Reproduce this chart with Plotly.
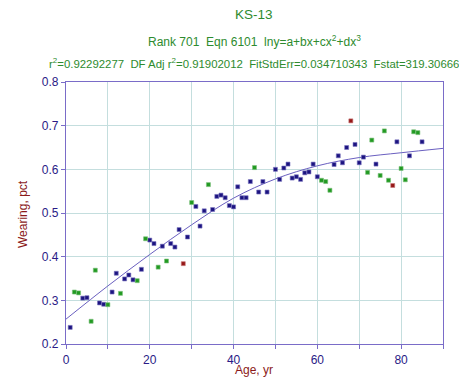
import plotly.graph_objects as go

# Data: age (yr) and wearing (pct), grouped by marker colour
blue_x = [1, 4, 5, 8, 9, 11, 12, 14, 15, 16, 18, 20, 21, 23, 25, 26, 27, 29, 31, 32, 33, 35, 36, 37, 38, 39, 40,
          41, 42, 43, 44, 46, 47, 48, 50, 51, 52, 53, 54, 55, 56, 57, 58, 59, 60, 64, 65, 66, 67, 69, 70, 71, 74,
          79, 82, 85]
blue_y = [0.238, 0.305, 0.306, 0.294, 0.291, 0.319, 0.362, 0.349, 0.358, 0.347, 0.371, 0.438, 0.430, 0.424, 0.430,
          0.422, 0.462, 0.445, 0.515, 0.470, 0.505, 0.508, 0.538, 0.541, 0.535, 0.517, 0.514, 0.560, 0.535, 0.535,
          0.572, 0.548, 0.572, 0.548, 0.600, 0.577, 0.603, 0.612, 0.580, 0.583, 0.577, 0.592, 0.594, 0.612, 0.583,
          0.611, 0.631, 0.615, 0.650, 0.657, 0.615, 0.628, 0.612, 0.663, 0.631, 0.663]

green_x = [2, 3, 6, 7, 10, 13, 17, 19, 22, 24, 30, 34, 45, 61, 62, 63, 72, 73, 75, 76, 77, 80, 81, 83, 84]
green_y = [0.319, 0.317, 0.252, 0.369, 0.290, 0.316, 0.345, 0.441, 0.376, 0.390, 0.524, 0.565, 0.604, 0.575, 0.572,
           0.552, 0.593, 0.667, 0.586, 0.688, 0.575, 0.602, 0.576, 0.686, 0.684]

red_x = [28, 68, 78]
red_y = [0.384, 0.711, 0.563]

# Fitted curve
curve_x = [0, 10, 20, 30, 40, 50, 60, 70, 80, 90]
curve_y = [0.257, 0.333, 0.405, 0.473, 0.534, 0.578, 0.608, 0.627, 0.638, 0.648]

x_ticks = [0, 20, 40, 60, 80]
y_ticks = [0.2, 0.3, 0.4, 0.5, 0.6, 0.7, 0.8]

FONT = "Arial, Liberation Sans, sans-serif"
AXIS = "#7a6cc8"
GRID = "#c4dede"
TICKC = "#2a1a86"
TITLEC = "#8b1a1a"
HEADC = "#2e8b2e"

# The page body adds an 8px margin, so the figure is laid out 8px in from the page corner
W, H = 451, 373
ML, MT = 58, 74
MR = W - 435
MB = H - 336
plot_h = H - MT - MB
plot_w = W - ML - MR


def py_paper(py):
    return 1 + (MT - py) / plot_h


def px_paper(px):
    return (px - ML) / plot_w


cx = px_paper(246)

fig = go.Figure()
fig.add_trace(go.Scatter(x=curve_x, y=curve_y, mode="lines", line=dict(color="#6a5fc0", width=1, shape="spline"),
                         hoverinfo="skip"))
fig.add_trace(go.Scatter(x=blue_x, y=blue_y, mode="markers",
                         marker=dict(symbol="square", size=4, color="#1c1480", line=dict(color="#7a74c0", width=0.6))))
fig.add_trace(go.Scatter(x=green_x, y=green_y, mode="markers",
                         marker=dict(symbol="square", size=4, color="#229a22", line=dict(color="#7ac07a", width=0.6))))
fig.add_trace(go.Scatter(x=red_x, y=red_y, mode="markers",
                         marker=dict(symbol="square", size=4, color="#961818", line=dict(color="#c87a7a", width=0.6))))

fig.update_layout(
    template="none",
    width=W, height=H,
    margin=dict(l=ML, r=MR, t=MT, b=MB, autoexpand=False),
    paper_bgcolor="white", plot_bgcolor="white",
    showlegend=False,
    font=dict(family=FONT, size=12, color=TICKC),
    annotations=[
        dict(text="KS-13", x=cx, y=py_paper(7), xref="paper", yref="paper", showarrow=False,
             xanchor="center", yanchor="middle", font=dict(size=13.5, color=HEADC)),
        dict(text="Rank 701  Eqn 6101  lny=a+bx+cx<sup>2</sup>+dx<sup>3</sup>", x=cx, y=py_paper(33),
             xref="paper", yref="paper", showarrow=False, xanchor="center", yanchor="middle",
             font=dict(size=12, color=HEADC)),
        dict(text="r<sup>2</sup>=0.92292277  DF Adj r<sup>2</sup>=0.91902012  FitStdErr=0.034710343  Fstat=319.30666",
             x=cx, y=py_paper(55), xref="paper", yref="paper", showarrow=False, xanchor="center",
             yanchor="middle", font=dict(size=11.4, color=HEADC)),
        dict(text="Age, yr", x=cx, y=py_paper(362), xref="paper", yref="paper", showarrow=False,
             xanchor="center", yanchor="middle", font=dict(size=12, color=TITLEC)),
        dict(text="Wearing, pct", x=px_paper(15), y=py_paper(206), xref="paper", yref="paper", showarrow=False,
             xanchor="center", yanchor="middle", textangle=-90, font=dict(size=12, color=TITLEC)),
    ],
)

fig.update_xaxes(range=[0, 90], tickvals=list(range(0, 91, 10)),
                 ticktext=[str(v) if v in x_ticks else "" for v in range(0, 91, 10)],
                 automargin=False,
                 showgrid=True, gridcolor=GRID, gridwidth=1,
                 showline=True, linecolor=AXIS, linewidth=1.2, mirror=True,
                 ticks="outside", ticklen=4, tickcolor=AXIS, zeroline=False,
                 tickfont=dict(size=12, color=TICKC))
fig.update_yaxes(range=[0.2, 0.8], tickvals=y_ticks, tickformat=".1f",
                 automargin=False,
                 showgrid=True, gridcolor=GRID, gridwidth=1,
                 showline=True, linecolor=AXIS, linewidth=1.2, mirror=True,
                 ticks="outside", ticklen=4, tickcolor=AXIS, zeroline=False,
                 tickfont=dict(size=12, color=TICKC))

fig.write_html("out.html")
